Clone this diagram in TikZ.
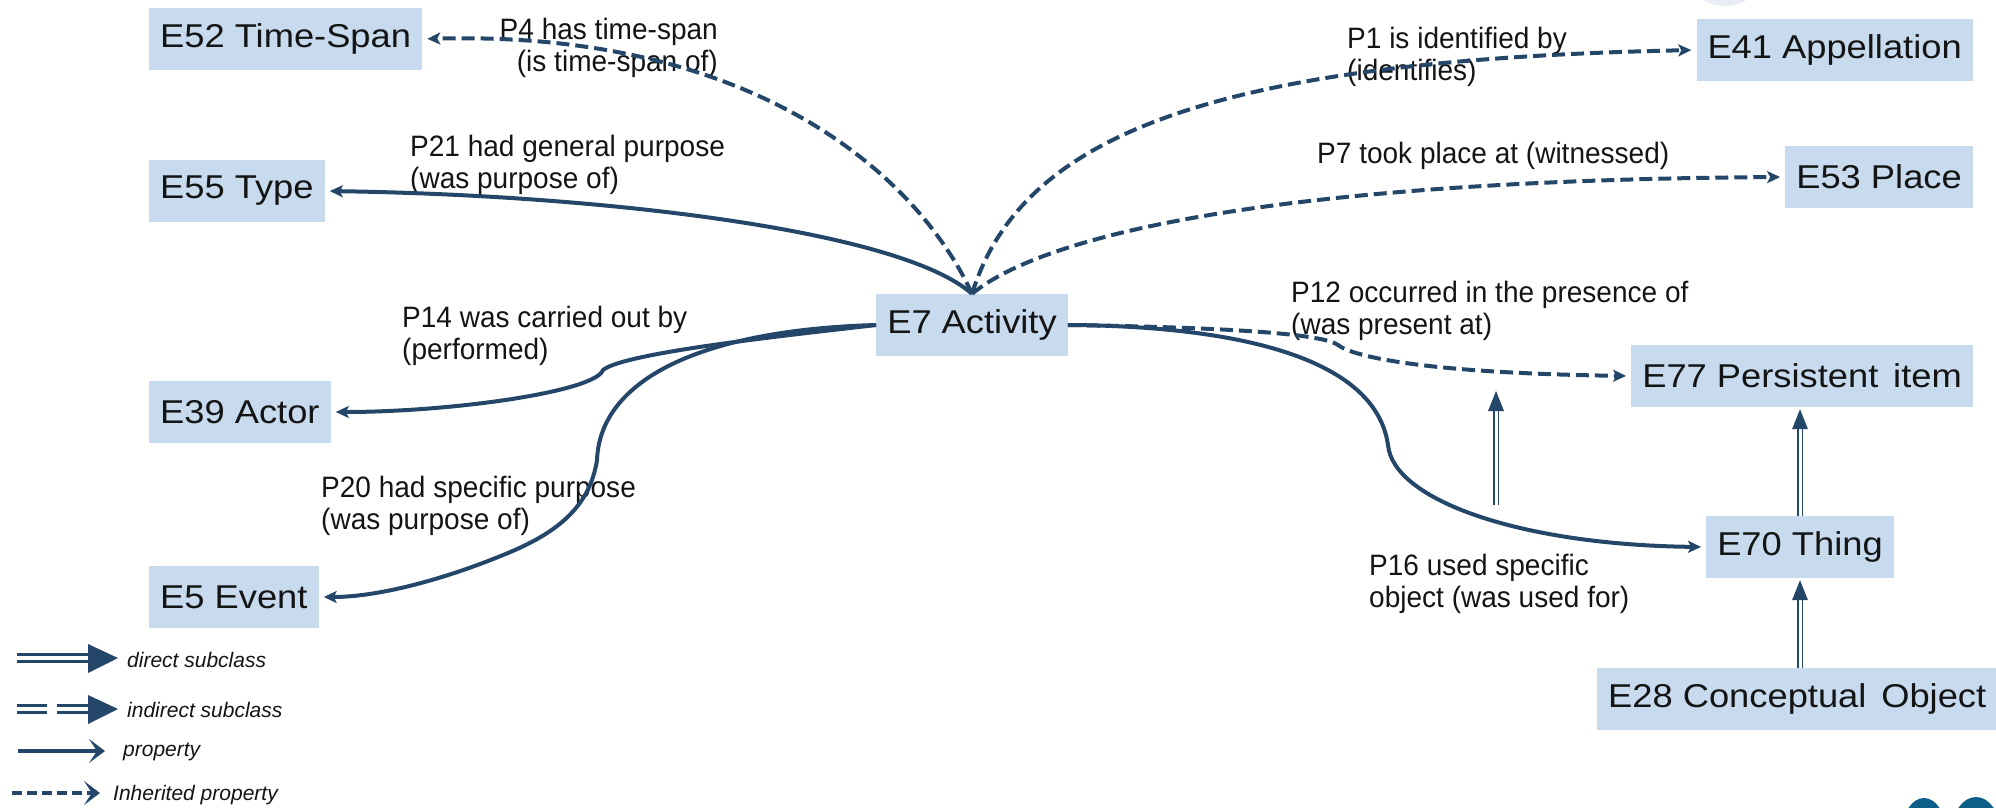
\documentclass[tikz,border=0pt]{standalone}
\usepackage{fontspec}
\setmainfont{Liberation Sans}
\newfontfamily\boxfont[FakeStretch=1.1]{Liberation Sans}
\newfontfamily\lblfont[FakeStretch=0.95]{Liberation Sans}
\usetikzlibrary{arrows.meta}

\definecolor{linec}{RGB}{36,70,104}
\definecolor{boxc}{RGB}{200,219,238}
\definecolor{logoc}{RGB}{14,94,138}
\definecolor{logofaint}{RGB}{233,238,244}
\definecolor{txt}{RGB}{20,20,20}

\tikzset{
  ent/.style={fill=boxc, draw=none, inner xsep=11pt, inner ysep=0pt,
    minimum height=62pt, text=txt, font=\boxfont\fontsize{33}{36}\selectfont},
  lbl/.style={inner sep=0pt, text=txt, align=left,
    font=\lblfont\fontsize{29.5}{32}\selectfont},
  prop/.style={draw=linec, line width=4pt, shorten >=5pt,
    -{Stealth[length=13pt,width=12pt,inset=3pt]}},
  iprop/.style={prop, dash pattern=on 13pt off 6pt},
  subln/.style={draw=linec, double=white, line width=1.7pt, double distance=3pt},
  legdbl/.style={draw=linec, double=white, line width=2.6pt, double distance=4.5pt},
  legtxt/.style={anchor=west, inner sep=0pt, text=txt,
    font=\fontsize{21}{24}\selectfont\itshape},
  legprop/.style={draw=linec, line width=3.3pt,
    -{Stealth[length=16pt,width=24pt,inset=8pt]}},
}

\begin{document}
\begin{tikzpicture}[x=1pt, y=-1pt]
\useasboundingbox (0,0) rectangle (1996,808);

% partial logos cut off by the page edge
\begin{scope}
  \clip (0,0) rectangle (1996,808);
  \fill[logofaint] (1725,-8) ellipse [x radius=26pt, y radius=14pt];
  \fill[logoc] (1924,832) ellipse [x radius=22pt, y radius=34pt];
  \fill[logoc] (1976,831) ellipse [x radius=24pt, y radius=34pt];
\end{scope}

% classes
\node[ent, anchor=west] (e52) at (149,39)  {E52 Time-Span};
\node[ent, anchor=west] (e55) at (149,191) {E55 Type};
\node[ent, anchor=west] (e39) at (149,412) {E39 Actor};
\node[ent, anchor=west] (e5)  at (149,597) {E5 Event};
\node[ent]              (e7)  at (972,325) {E7 Activity};
\node[ent, anchor=east] (e41) at (1973,50)  {E41 Appellation};
\node[ent, anchor=east] (e53) at (1973,177) {E53 Place};
\node[ent, anchor=east] (e77) at (1973,376) {E77 Persistent\hspace{0.45em}item};
\node[ent]              (e70) at (1800,547) {E70 Thing};
\node[ent, anchor=west] (e28) at (1597,699) {E28 Conceptual\hspace{0.45em}Object};

% property labels
\node[lbl, anchor=north east, align=right] (l4) at (718,18) {P4 has time-span\\(is time-span of)};
\node[lbl, anchor=north west] (l21) at (410,135) {P21 had general purpose\\(was purpose of)};
\node[lbl, anchor=north west] (l1)  at (1347,27) {P1 is identified by\\(identifies)};
\node[lbl, anchor=north west] (l7)  at (1317,142) {P7 took place at (witnessed)};
\node[lbl, anchor=north west] (l12) at (1291,281) {P12 occurred in the presence of\\(was present at)};
\node[lbl, anchor=north west] (l14) at (402,306) {P14 was carried out by\\(performed)};
\node[lbl, anchor=north west] (l20) at (321,476) {P20 had specific purpose\\(was purpose of)};
\node[lbl, anchor=north west] (l16) at (1369,554) {P16 used specific\\object (was used for)};

% properties leaving the top of E7
\draw[iprop] (e7.north) .. controls (920,180) and (760,30) .. (e52.east);
\draw[prop]  (e7.north) .. controls (900,230) and (600,195) .. (e55.east);
\draw[iprop] (e7.north) .. controls (1020,140) and (1200,60) .. (e41.west);
\draw[iprop] (e7.north) .. controls (1050,230) and (1300,180) .. (e53.west);

% properties leaving the right side of E7
\draw[iprop] (e7.east) .. controls (1200,327) and (1320,332) .. (1338,345)
             .. controls (1352,356) and (1420,373) .. (e77.west);
\draw[prop]  (e7.east) .. controls (1230,326) and (1375,355) .. (1388,445)
             .. controls (1393,500) and (1520,545) .. (e70.west);

% properties leaving the left side of E7
\draw[prop] (e7.west) .. controls (800,334) and (625,352) .. (603,370)
            .. controls (595,392) and (450,412) .. (e39.east);
\draw[prop] (e7.west) .. controls (700,330) and (600,380) .. (597,460)
            .. controls (590,505) and (560,530) .. (515,550)
            .. controls (450,578) and (380,597) .. (e5.east);

% subclass links
\coordinate (s1) at (1496,505);
\coordinate (t1) at (1496,391);
\draw[subln] (s1) -- ([yshift=-18pt]t1);
\fill[linec] (t1) -- ++(-8pt,-20pt) -- ++(16pt,0pt) -- cycle;

\path (e70.north |- e77.south) ++(0pt,-2pt) coordinate (t77);
\draw[subln] (e70.north) -- ([yshift=-18pt]t77);
\fill[linec] (t77) -- ++(-8pt,-20pt) -- ++(16pt,0pt) -- cycle;

\path (e70.south) ++(0pt,-2pt) coordinate (t70);
\draw[subln] (e70.south |- e28.north) -- ([yshift=-18pt]t70);
\fill[linec] (t70) -- ++(-8pt,-20pt) -- ++(16pt,0pt) -- cycle;

% legend
\draw[legdbl] (17,658) -- (90,658);
\fill[linec] (118,658) -- (88,644) -- (88,673) -- cycle;
\node[legtxt] (k1) at (127,660) {direct subclass};

\draw[legdbl] (17,709) -- (47,709);
\draw[legdbl] (57,709) -- (89,709);
\fill[linec] (118,709) -- (88,695) -- (88,724) -- cycle;
\node[legtxt] (k2) at (127,710) {indirect subclass};

\draw[legprop] (18,751) -- (105,751);
\node[legtxt] (k3) at (123,752) {property};

\draw[legprop, dash pattern=on 10pt off 5pt] (12,793) -- (100,793);
\node[legtxt] (k4) at (113,795) {Inherited property};
\end{tikzpicture}
\end{document}
